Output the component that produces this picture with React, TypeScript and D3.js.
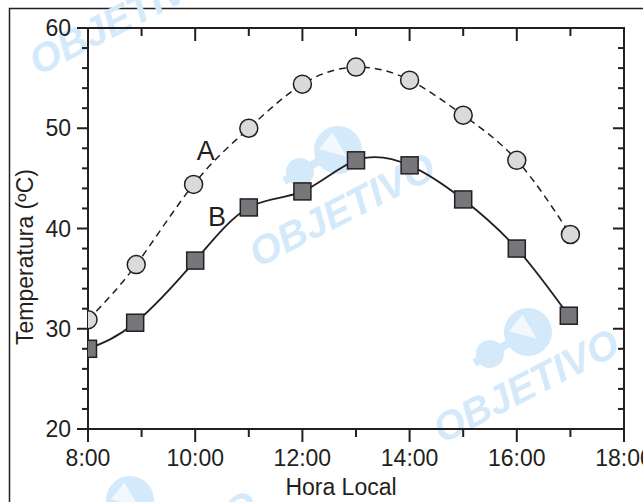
import * as d3 from "d3";
import React from "react";

// data
const hoursA = [8.0, 8.9, 9.97, 11.0, 12.0, 13.0, 14.0, 15.0, 16.0, 17.0];
const tempA = [30.9, 36.4, 44.4, 50.0, 54.4, 56.1, 54.8, 51.3, 46.8, 39.4];
const hoursB = [8.0, 8.88, 10.0, 11.0, 12.0, 13.0, 14.0, 15.0, 16.0, 16.97];
const tempB = [28.0, 30.6, 36.8, 42.1, 43.7, 46.8, 46.3, 42.9, 38.0, 31.3];
const xTicks = [8, 10, 12, 14, 16, 18];
const yTicks = [20, 30, 40, 50, 60];

const W = 643;
const H = 502;
const margin = { left: 88, top: 28, right: 19, bottom: 73 };
const font = "'Liberation Sans', Arial, Helvetica, sans-serif";

const App = () => {
    const x = d3.scaleLinear().domain([8, 18]).range([margin.left, W - margin.right]);
    const y = d3.scaleLinear().domain([20, 60]).range([H - margin.bottom, margin.top]);
    const [x0, x1] = x.range();
    const [y0, y1] = y.range(); // y0 bottom, y1 top

    const line = d3.line<[number, number]>()
        .x(d => x(d[0]))
        .y(d => y(d[1]))
        .curve(d3.curveNatural);

    const ptsA = hoursA.map((h, i) => [h, tempA[i]] as [number, number]);
    const ptsB = hoursB.map((h, i) => [h, tempB[i]] as [number, number]);

    const hourTicks = d3.range(8, 18.01, 1);
    const minorY = d3.range(20, 60.01, 2);
    const ink = "#231f20";
    const wm = "#d4eafb";

    // watermark pieces (text centre + logo centre)
    const marks = [
        { cx: 128, cy: 30, lx: 0, ly: 0, logo: false },
        { cx: 348, cy: 222, lx: 338, ly: 150, logo: true },
        { cx: 532, cy: 398, lx: 528, ly: 332, logo: true },
        { cx: 170, cy: 560, lx: 130, ly: 500, logo: true },
    ];

    return (
        <svg width={W} height={H} style={{ position: "absolute", left: 0, top: 0, background: "#fff" }}>
            <defs>
                <clipPath id="plot">
                    <rect x={x0} y={y1} width={x1 - x0} height={y0 - y1} />
                </clipPath>
            </defs>
            {/* outer frame */}
            <path d={`M${W + 5},8.5 H9.5 V${H + 5}`} fill="none" stroke={ink} strokeWidth={1.5} />

            {/* watermark */}
            <g fill={wm}>
                {marks.map((m, i) => (
                    <g key={i}>
                        {m.logo && (
                            <g transform={`translate(${m.lx},${m.ly}) rotate(-30)`}>
                                <circle r={24} />
                                <circle cx={-44} cy={0} r={14} />
                                <rect x={-62} y={-4} width={60} height={8} />
                                <path d="M-16,-10 L4,-18 L4,10 Z" fill="#fff" opacity={0.7} />
                            </g>
                        )}
                        <text
                            x={m.cx}
                            y={m.cy}
                            transform={`rotate(-27,${m.cx},${m.cy})`}
                            textAnchor="middle"
                            fontFamily={font}
                            fontWeight="bold"
                            fontStyle="italic"
                            fontSize={40}
                        >
                            OBJETIVO
                        </text>
                    </g>
                ))}
            </g>

            {/* plot box */}
            <rect x={x0} y={y1} width={x1 - x0} height={y0 - y1} fill="none" stroke={ink} strokeWidth={2} />

            {/* x ticks: bottom outward, top inward */}
            {hourTicks.map(h => {
                const major = h % 2 === 0;
                const len = major ? 13 : 8;
                return (
                    <g key={h} stroke={ink} strokeWidth={2}>
                        <line x1={x(h)} x2={x(h)} y1={y0} y2={y0 + len} />
                        <line x1={x(h)} x2={x(h)} y1={y1} y2={y1 + len} />
                    </g>
                );
            })}
            {/* y ticks: left outward, right inward */}
            {minorY.map(v => {
                const major = v % 10 === 0;
                const len = major ? 11 : 6;
                return (
                    <g key={v} stroke={ink} strokeWidth={2}>
                        <line x1={x0 - len} x2={x0} y1={y(v)} y2={y(v)} />
                        <line x1={x1 - len} x2={x1} y1={y(v)} y2={y(v)} />
                    </g>
                );
            })}

            {/* tick labels */}
            {xTicks.map(t => (
                <text key={t} x={x(t)} y={y0 + 37} textAnchor="middle" fontFamily={font} fontSize={23} fill={ink}>
                    {`${t}:00`}
                </text>
            ))}
            {yTicks.map(t => (
                <text key={t} x={x0 - 17} y={y(t) + 8} textAnchor="end" fontFamily={font} fontSize={23} fill={ink}>
                    {t}
                </text>
            ))}

            {/* axis titles */}
            <text x={341} y={H - 7} textAnchor="middle" fontFamily={font} fontSize={23} fill={ink}>
                Hora Local
            </text>
            <text
                transform={`translate(33,257) rotate(-90)`}
                textAnchor="middle"
                fontFamily={font}
                fontSize={23}
                fill={ink}
            >
                Temperatura (ºC)
            </text>

            {/* series */}
            <g clipPath="url(#plot)">
                <path d={line(ptsA) ?? ""} fill="none" stroke={ink} strokeWidth={1.5} strokeDasharray="7,5" />
                <path d={line(ptsB) ?? ""} fill="none" stroke={ink} strokeWidth={1.8} />
                {ptsA.map((p, i) => (
                    <circle key={i} cx={x(p[0])} cy={y(p[1])} r={9} fill="#d9dadc" stroke={ink} strokeWidth={1.5} />
                ))}
                {ptsB.map((p, i) => (
                    <rect
                        key={i}
                        x={x(p[0]) - 8.5}
                        y={y(p[1]) - 8.5}
                        width={17}
                        height={17}
                        fill="#77777b"
                        stroke={ink}
                        strokeWidth={1.5}
                    />
                ))}
            </g>

            {/* series labels */}
            <text x={x(10.03)} y={y(46.8)} fontFamily={font} fontSize={27} fill={ink}>A</text>
            <text x={x(10.24)} y={y(40.2)} fontFamily={font} fontSize={27} fill={ink}>B</text>
        </svg>
    );
};

export default App;
